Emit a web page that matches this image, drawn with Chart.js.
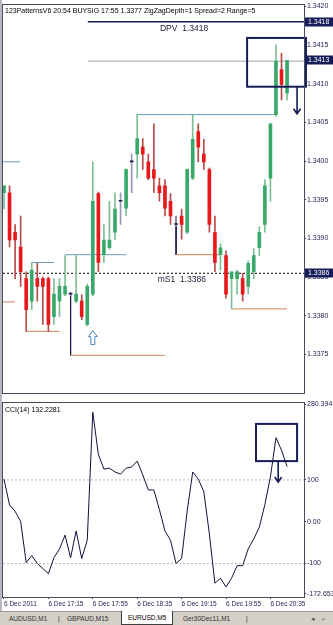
<!DOCTYPE html>
<html>
<head>
<meta charset="utf-8">
<script src="https://cdn.jsdelivr.net/npm/chart.js@4/dist/chart.umd.min.js"></script>
<style>
  html, body { margin: 0; padding: 0; background: #fff; }
  body { width: 333px; height: 625px; position: relative; overflow: hidden; font-family: "Liberation Sans", Arial, sans-serif; }
  #priceCanvas { position: absolute; left: 0; top: 0; }
  #cciCanvas { position: absolute; left: 0; top: 398px; }
  #leftEdge { position: absolute; left: 0; top: 0; width: 2px; height: 612px; background: #b8b8c0; }
  #tabs { position: absolute; left: 0; top: 611px; width: 333px; height: 14px; background: #d4d0c8; border-top: 1px solid #9a9890; font-size: 6.5px; color: #303030; }
  #tabs span { position: absolute; top: 3px; white-space: nowrap; }
  #tabs .active { top: -1px; height: 13px; background: #fff; border: 1px solid #404040; border-top: none; padding: 0 6px; line-height: 13px; color: #000; }
</style>
</head>
<body>
<canvas id="priceCanvas" width="333" height="398"></canvas>
<canvas id="cciCanvas" width="333" height="214"></canvas>
<div id="leftEdge"></div>
<div id="tabs">
  <span style="left:9px">AUDUSD,M1</span>
  <span style="left:58px">|</span>
  <span style="left:67px">GBPAUD,M15</span>
  <span class="active" style="left:121px">EURUSD,M5</span>
  <span style="left:183px">Ger30Dec11,M1</span>
  <span style="left:246px">|</span>
  <span style="left:311px;color:#555">&#9666;</span>
  <span style="left:322px;color:#999">&#9656;</span>
</div>
<script>
// EURUSD M5, 6 Dec 2011
var barTimes = ['16:35','16:40','16:45','16:50','16:55','17:00','17:05','17:10','17:15','17:20','17:25','17:30','17:35',
  '17:40','17:45','17:50','17:55','18:00','18:05','18:10','18:15','18:20','18:25','18:30','18:35','18:40','18:45',
  '18:50','18:55','19:00','19:05','19:10','19:15','19:20','19:25','19:30','19:35','19:40','19:45','19:50','19:55',
  '20:00','20:05','20:10','20:15','20:20','20:25','20:30','20:35','20:40','20:45','20:50'];

var open = [1.33959,1.33959,1.33908,1.33889,1.33848,1.33819,1.33848,1.33848,1.33848,1.33799,1.33819,1.33828,1.33828,
  1.33819,1.33819,1.33789,1.33828,1.33958,1.33879,1.33888,1.33908,1.33948,1.33939,1.33999,1.34009,1.34018,1.33999,
  1.33989,1.33968,1.33968,1.33948,1.33918,1.33929,1.33908,1.33978,1.34038,1.34009,1.33989,1.33908,1.33879,1.33878,
  1.33848,1.33848,1.33848,1.33838,1.33857,1.33888,1.33918,1.33978,1.34060,1.34118,1.34088];
var high = [1.33968,1.33968,1.33918,1.33929,1.33857,1.33869,1.33868,1.33850,1.33850,1.33848,1.33848,1.33878,1.33830,
  1.33878,1.33827,1.33841,1.33999,1.33960,1.33918,1.33948,1.33959,1.33959,1.33990,1.34009,1.34060,1.34029,1.34009,
  1.34048,1.33978,1.33976,1.33958,1.33929,1.33938,1.33990,1.34059,1.34048,1.34028,1.33991,1.33929,1.33893,1.33884,
  1.33857,1.33859,1.33855,1.33871,1.33887,1.33915,1.33976,1.34048,1.34150,1.34139,1.34130];
var low = [1.33938,1.33889,1.33848,1.33838,1.33780,1.33808,1.33819,1.33789,1.33780,1.33789,1.33799,1.33826,1.33826,
  1.33817,1.33795,1.33787,1.33826,1.33857,1.33869,1.33886,1.33898,1.33918,1.33929,1.33959,1.33978,1.33989,1.33976,
  1.33959,1.33948,1.33929,1.33918,1.33916,1.33899,1.33906,1.33976,1.33999,1.33989,1.33908,1.33857,1.33859,1.33823,
  1.33809,1.33828,1.33819,1.33828,1.33848,1.33878,1.33908,1.33948,1.34058,1.34079,1.34079];
var close = [1.33968,1.33898,1.33898,1.33857,1.33808,1.33859,1.33838,1.33838,1.33789,1.33828,1.33838,1.33838,1.33828,
  1.33828,1.33799,1.33838,1.33948,1.33869,1.33898,1.33898,1.33938,1.33948,1.33989,1.33999,1.34029,1.34009,1.33978,
  1.33978,1.33959,1.33939,1.33929,1.33918,1.33918,1.33989,1.34028,1.34018,1.33999,1.33918,1.33869,1.33888,1.33828,
  1.33857,1.33857,1.33828,1.33868,1.33878,1.33908,1.33968,1.34048,1.34129,1.34099,1.34130];

var cci = [102,40,25,1,-98,-81,-100,-112,-124,-86,-65,-32,-86,-22,-88,-44,262,161,126,128,119,114,128,131,145,112,
  76,76,29,-22,-44,-100,-88,25,119,102,72,-29,-147,-135,-156,-135,-105,-105,-65,-41,-13,41,107,201,171,132.2281];

var priceTicks = [1.3375,1.3380,1.3385,1.3390,1.3395,1.3400,1.3405,1.3410,1.3415,1.3420];
var cciTicks = [280.394,100,0,-100,-172.653];
var cciLevels = [100,-100];
var timeTickBars = [0,8,16,24,32,40,48];
var timeTickLabels = ['6 Dec 2011','6 Dec 17:15','6 Dec 17:55','6 Dec 18:35','6 Dec 19:15','6 Dec 19:55','6 Dec 20:35'];

// pattern lines: [fromBar, toBar, price]
var blueLines = [[-0.18,2.9,1.33999],[5,9,1.33869],[11,22,1.33879],[24,49,1.34060]];
var orangeLines = [[-0.18,2,1.33818],[4,10,1.33780],[12,29,1.33749],[31,39,1.33879],[41,51,1.33809]];
// [bar, fromPrice, toPrice]
var navyLegs = [[12,1.33828,1.33749],[31,1.33929,1.33879]];

var dpvLevel = 1.3418;
var s1Level = 1.33855;
var bidLevel = 1.34129;
var levelStartBar = 15.1;
var buySignal = [16, 1.33781];
var headerText = '123PatternsV6 20:54 BUYSIG 17:55 1.3377 ZigZagDepth=1 Spread=2 Range=5';
var dpvText = 'DPV  1.3418';
var s1Text = 'mS1  1.3386';
var badges = [[1.3418, '1.3418'], [1.34130, '1.3413'], [1.33855, '1.3386']];

// hand-drawn boxes: [fromBar, toBar, top, bottom], arrows: [bar, from, to]
var priceBox = [43.8, 54.4, 1.34159, 1.34096];
var priceArrow = [52.8, 1.34096, 1.34061];
var cciBox = [45.4, 52.8, 234, 145];
var cciArrow = [49.4, 145, 95];

var X_MIN = -0.18, X_MAX = 54.05;
var FONT = '"Liberation Sans", Arial, sans-serif';
var NAVY = '#151c58';

function candleKind(i) {
  if (close[i] > open[i]) return 'up';
  if (close[i] < open[i]) return 'down';
  return 'doji';
}
var bodyColor = { up: '#3aa86a', down: '#e8191b', doji: '#1a1a50' };
var wickColor = { up: '#7cbf96', down: '#b84a4a', doji: '#9898b2' };

function hLine(from, to, value, color, width, dash) {
  return {
    type: 'line',
    data: [{ x: from, y: value }, { x: to, y: value }],
    borderColor: color, borderWidth: width || 1, borderDash: dash || [],
    pointRadius: 0, tension: 0, order: 3
  };
}
function vLine(bar, a, b, color) {
  return {
    type: 'line',
    data: [{ x: bar, y: a }, { x: bar, y: b }],
    borderColor: color, borderWidth: 1, pointRadius: 0, order: 3
  };
}

function drawArrow(ctx, x, y1, y2) {
  ctx.beginPath();
  ctx.moveTo(x, y1);
  ctx.lineTo(x, y2);
  ctx.moveTo(x - 3.5, y2 - 5);
  ctx.lineTo(x, y2);
  ctx.lineTo(x + 3.5, y2 - 5);
  ctx.stroke();
}

function frame(chart) {
  var a = chart.chartArea, ctx = chart.ctx;
  ctx.save();
  ctx.strokeStyle = '#4a4a5e';
  ctx.lineWidth = 1;
  ctx.strokeRect(Math.round(a.left) - 0.5, Math.round(a.top) - 0.5, Math.round(a.width) + 1, Math.round(a.height) + 1);
  ctx.restore();
}

var priceOverlay = {
  id: 'priceOverlay',
  afterDatasetsDraw: function (chart) {
    var ctx = chart.ctx, a = chart.chartArea, xs = chart.scales.x, ys = chart.scales.y;
    ctx.save();
    ctx.fillStyle = '#000';
    ctx.textBaseline = 'middle';
    ctx.font = '7px ' + FONT;
    ctx.fillText(headerText, a.left + 2, a.top + 6);

    ctx.fillStyle = '#20203a';
    ctx.textBaseline = 'top';
    ctx.font = '8.5px ' + FONT;
    ctx.fillText(dpvText, xs.getPixelForValue(28.1), ys.getPixelForValue(dpvLevel) + 3);
    ctx.fillText(s1Text, xs.getPixelForValue(27.7), ys.getPixelForValue(s1Level) + 2);

    // buy signal arrow (hollow)
    var cx = xs.getPixelForValue(buySignal[0]), ty = ys.getPixelForValue(buySignal[1]);
    ctx.beginPath();
    ctx.moveTo(cx, ty);
    ctx.lineTo(cx + 4.5, ty + 6);
    ctx.lineTo(cx + 2, ty + 6);
    ctx.lineTo(cx + 2, ty + 14);
    ctx.lineTo(cx - 2, ty + 14);
    ctx.lineTo(cx - 2, ty + 6);
    ctx.lineTo(cx - 4.5, ty + 6);
    ctx.closePath();
    ctx.fillStyle = '#fff';
    ctx.fill();
    ctx.strokeStyle = '#4a88c8';
    ctx.lineWidth = 1;
    ctx.stroke();

    // annotation box and arrow
    ctx.strokeStyle = NAVY;
    ctx.lineWidth = 2;
    var bx1 = xs.getPixelForValue(priceBox[0]), bx2 = xs.getPixelForValue(priceBox[1]);
    var by1 = ys.getPixelForValue(priceBox[2]), by2 = ys.getPixelForValue(priceBox[3]);
    ctx.strokeRect(bx1, by1, bx2 - bx1, by2 - by1);
    ctx.lineWidth = 1.6;
    drawArrow(ctx, xs.getPixelForValue(priceArrow[0]), ys.getPixelForValue(priceArrow[1]), ys.getPixelForValue(priceArrow[2]));
    ctx.restore();
  },
  afterDraw: function (chart) {
    frame(chart);
    var ctx = chart.ctx, a = chart.chartArea, ys = chart.scales.y;
    ctx.save();
    ctx.font = '7px ' + FONT;
    ctx.textBaseline = 'middle';
    badges.forEach(function (b) {
      var y = Math.round(ys.getPixelForValue(b[0]));
      ctx.fillStyle = NAVY;
      ctx.fillRect(a.right + 1, y - 4.5, 28, 9);
      ctx.fillStyle = '#fff';
      ctx.fillText(b[1], a.right + 4, y + 0.5);
    });
    ctx.restore();
  }
};

var cciOverlay = {
  id: 'cciOverlay',
  afterDatasetsDraw: function (chart) {
    var ctx = chart.ctx, a = chart.chartArea, xs = chart.scales.x, ys = chart.scales.y;
    ctx.save();
    ctx.fillStyle = '#000';
    ctx.font = '7px ' + FONT;
    ctx.textBaseline = 'middle';
    ctx.fillText('CCI(14) ' + cci[cci.length - 1].toFixed(4), a.left + 2, a.top + 7);

    ctx.strokeStyle = NAVY;
    ctx.lineWidth = 2;
    var bx1 = xs.getPixelForValue(cciBox[0]), bx2 = xs.getPixelForValue(cciBox[1]);
    var by1 = ys.getPixelForValue(cciBox[2]), by2 = ys.getPixelForValue(cciBox[3]);
    ctx.strokeRect(bx1, by1, bx2 - bx1, by2 - by1);
    ctx.lineWidth = 1.6;
    drawArrow(ctx, xs.getPixelForValue(cciArrow[0]), ys.getPixelForValue(cciArrow[1]), ys.getPixelForValue(cciArrow[2]));
    ctx.restore();
  },
  afterDraw: function (chart) {
    frame(chart);
  }
};

var wickData = [], bodyData = [];
for (var i = 0; i < open.length; i++) {
  wickData.push({ x: i, y: [low[i], high[i]] });
  bodyData.push({ x: i, y: [open[i], close[i]] });
}

var priceDatasets = [
  {
    type: 'bar', data: bodyData, grouped: false, barThickness: 3, minBarLength: 1, order: 0,
    backgroundColor: function (c) { return bodyColor[candleKind(c.dataIndex)]; }
  },
  {
    type: 'bar', data: wickData, grouped: false, barThickness: 1, order: 1,
    backgroundColor: function (c) { return wickColor[candleKind(c.dataIndex)]; }
  },
  hLine(X_MIN, X_MAX, s1Level, '#000', 1, [2, 2]),
  hLine(levelStartBar, X_MAX, dpvLevel, NAVY, 1.5),
  hLine(levelStartBar, X_MAX, bidLevel, '#a4a8ae', 1)
];
blueLines.forEach(function (l) { priceDatasets.push(hLine(l[0], l[1], l[2], '#6a9cbc')); });
orangeLines.forEach(function (l) { priceDatasets.push(hLine(l[0], l[1], l[2], '#c8845c')); });
navyLegs.forEach(function (l) { priceDatasets.push(vLine(l[0], l[1], l[2], '#1a1a48')); });

new Chart(document.getElementById('priceCanvas').getContext('2d'), {
  data: { datasets: priceDatasets },
  options: {
    responsive: false,
    animation: false,
    devicePixelRatio: 1,
    events: [],
    layout: { padding: { left: 3, top: 3, right: 0, bottom: 2 } },
    plugins: { legend: { display: false }, tooltip: { enabled: false } },
    scales: {
      x: { type: 'linear', min: X_MIN, max: X_MAX, offset: false, display: false },
      y: {
        type: 'linear', position: 'right', min: 1.337006, max: 1.342013,
        afterBuildTicks: function (s) { s.ticks = priceTicks.map(function (v) { return { value: v }; }); },
        afterFit: function (s) { s.width = 29; },
        grid: { drawOnChartArea: false, drawTicks: true, tickLength: 2, tickColor: '#3a3a55' },
        border: { display: false },
        ticks: {
          padding: 1, color: '#1e1e50', font: { size: 7, family: FONT },
          callback: function (v) { return v.toFixed(4); }
        }
      }
    }
  },
  plugins: [priceOverlay]
});

var cciDatasets = [
  {
    type: 'line', data: cci.map(function (v, i) { return { x: i, y: v }; }),
    borderColor: '#12123c', borderWidth: 1, pointRadius: 0, tension: 0, order: 0
  }
];
cciLevels.forEach(function (v) { cciDatasets.push(hLine(X_MIN, X_MAX, v, '#b8b8b8', 1, [2, 2])); });

new Chart(document.getElementById('cciCanvas').getContext('2d'), {
  data: { datasets: cciDatasets },
  options: {
    responsive: false,
    animation: false,
    devicePixelRatio: 1,
    events: [],
    layout: { padding: { left: 3, top: 2, right: 0, bottom: 0 } },
    plugins: { legend: { display: false }, tooltip: { enabled: false } },
    scales: {
      x: {
        type: 'linear', min: X_MIN, max: X_MAX, offset: false,
        afterBuildTicks: function (s) { s.ticks = timeTickBars.map(function (v) { return { value: v }; }); },
        afterFit: function (s) { s.height = 15; },
        grid: { drawOnChartArea: false, drawTicks: true, tickLength: 2, tickColor: '#3a3a55' },
        border: { display: false },
        ticks: {
          align: 'start', padding: 1, autoSkip: false, maxRotation: 0, color: '#1e1e50',
          font: { size: 6.5, family: FONT },
          callback: function (v) { return timeTickLabels[timeTickBars.indexOf(v)]; }
        }
      },
      y: {
        type: 'linear', position: 'right', min: -180, max: 283.5,
        afterBuildTicks: function (s) { s.ticks = cciTicks.map(function (v) { return { value: v }; }); },
        afterFit: function (s) { s.width = 29; },
        grid: { drawOnChartArea: false, drawTicks: true, tickLength: 2, tickColor: '#3a3a55' },
        border: { display: false },
        ticks: {
          padding: 1, color: '#1e1e50', font: { size: 7, family: FONT },
          callback: function (v) { return v === 0 ? '0.00' : String(v); }
        }
      }
    }
  },
  plugins: [cciOverlay]
});
</script>
</body>
</html>
